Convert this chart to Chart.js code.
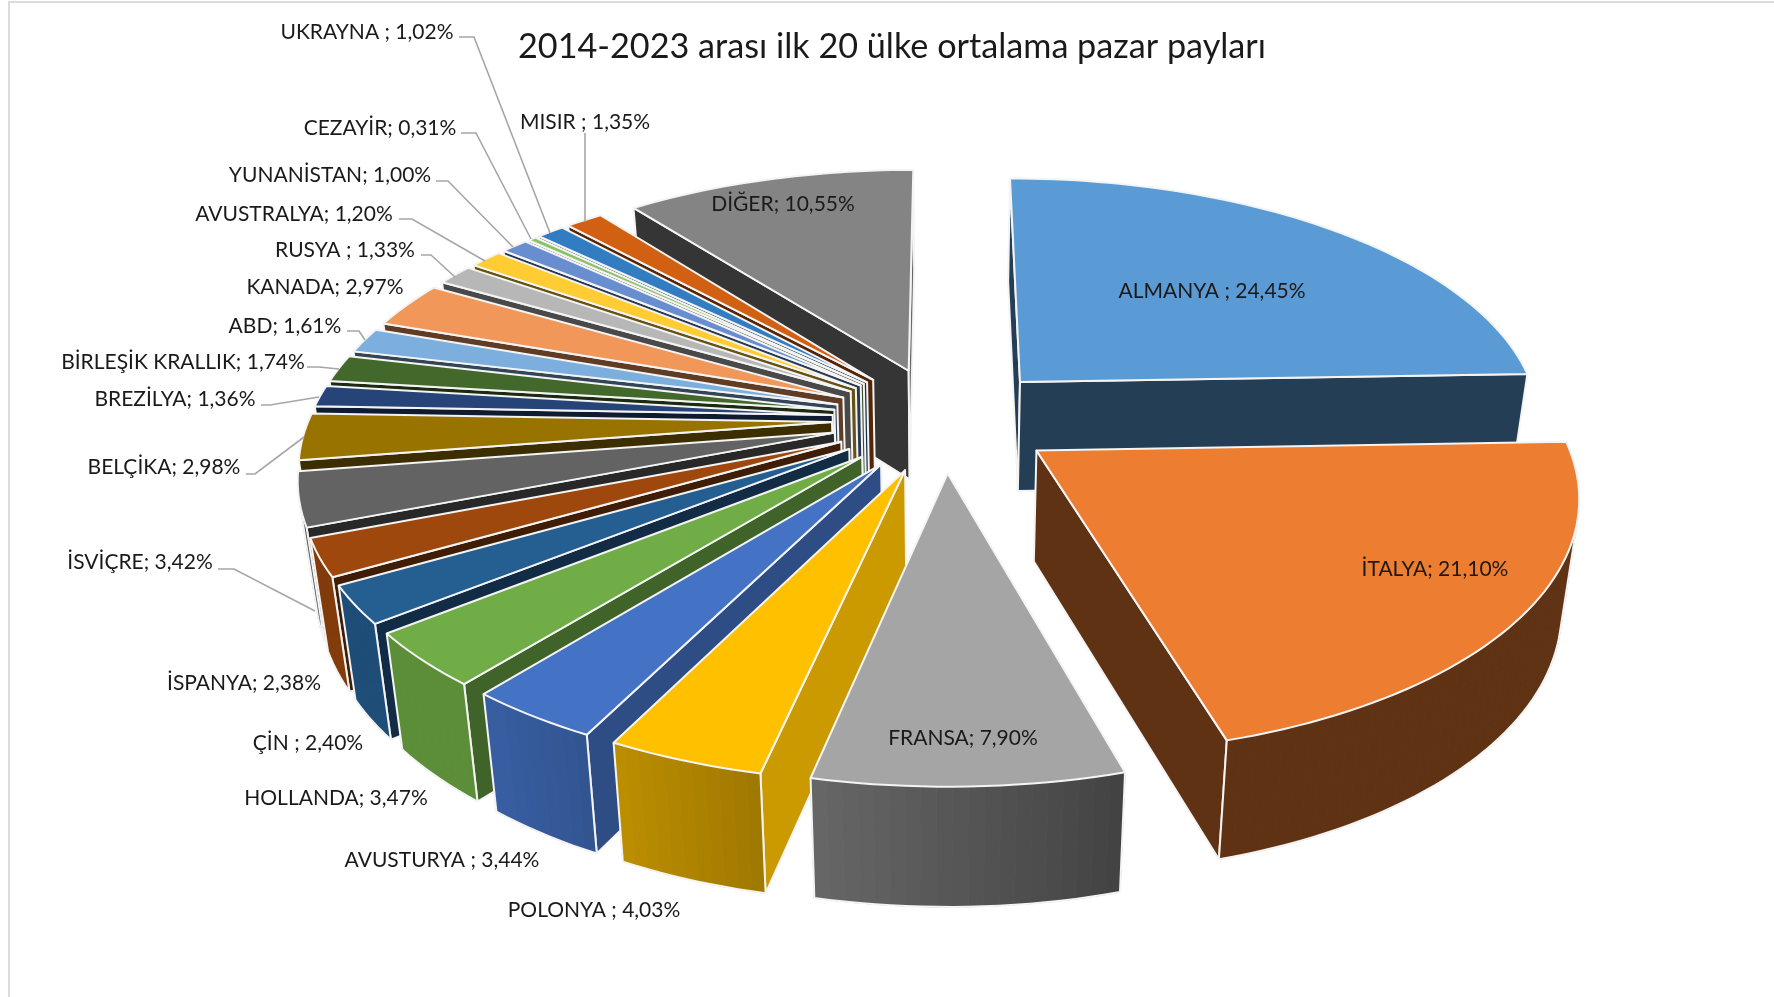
<!DOCTYPE html>
<html lang="tr">
<head>
<meta charset="utf-8">
<title>Pazar payları</title>
<script src="https://cdn.jsdelivr.net/npm/chart.js@4/dist/chart.umd.js"></script>
<style>
  html, body { margin:0; padding:0; background:#fff; }
  canvas { display:block; }
</style>
</head>
<body>
<canvas id="pie" width="1774" height="997"></canvas>
<script>
// ── Data ───────────────────────────────────────────────────────
const categories = ['ALMANYA ','İTALYA','FRANSA','POLONYA ','AVUSTURYA ','HOLLANDA','ÇİN ','İSPANYA','İSVİÇRE','BELÇİKA',
  'BREZİLYA','BİRLEŞİK KRALLIK','ABD','KANADA','RUSYA ','AVUSTRALYA','YUNANİSTAN','CEZAYİR','UKRAYNA ','MISIR ','DİĞER'];
const shares = [24.45,21.10,7.90,4.03,3.44,3.47,2.40,2.38,3.42,2.98,1.36,1.74,1.61,2.97,1.33,1.20,1.00,0.31,1.02,1.35,10.55];
const colors = ['#5B9BD5','#ED7D31','#A5A5A5','#FFC000','#4472C4','#70AD47','#255E91','#9E480E','#636363','#997300',
  '#264478','#43682B','#7CAFDD','#F1975A','#B7B7B7','#FFCD33','#698ED0','#8CC168','#327DC2','#D26012','#848484'];

// label centres, same order as categories
const labelX = [1212,1435,963,594,442,336,308,244,140,164,175,183,285,325,345,294,330,380,367,585,783];
const labelY = [291,569,738,910,860,798,743,683,562,467,399,362,326,287,250,214,175,128,32,122,204];

// leader lines [index, x,y, x,y, x,y ...]
const leaders = [
  [18, 459,37, 474,37, 550,233],
  [17, 461,133, 476,133, 531,239],
  [16, 436,181, 448,181, 513,247],
  [15, 399,219, 412,219, 485,261],
  [14, 421,255, 431,255, 455,277],
  [12, 347,331, 359,331, 365,340],
  [11, 307,367, 319,367, 339,369],
  [10, 261,405, 270,405, 319,397],
  [9,  246,474, 255,474, 304,437],
  [8,  218,569, 234,569, 315,611],
  [19, 585,133, 585,222],
];

// ── 3D look ────────────────────────────────────────────────────
const CX = 944, CY = 419;   // hub on screen
const R = 523;              // disc radius
const TILT = 0.47;          // y squash
const FOCAL = 3370;         // perspective, front gets bigger
const DEPTH = 110;          // wall height
const LEAN = 0.028;         // bottom rim narrows by this much
const EDGE = '#f4f4f4';

function project(X, Y, down) {
  const p = 1 / (1 - Y / FOCAL);
  return [CX + X * p * (1 - down * LEAN), CY + Y * TILT * p + down * DEPTH * (1 + (p - 1) * 0.4)];
}

function shade(hex, b) {
  const n = parseInt(hex.slice(1), 16);
  const c = s => Math.round(((n >> s) & 255) * b);
  return `rgb(${c(16)},${c(8)},${c(0)})`;
}

function clamp(v, a, b) { return Math.max(a, Math.min(b, v)); }
function fromTop(a) { return ((a + Math.PI / 2) * 180 / Math.PI + 720) % 360; }
function radialLight(deg) { return clamp(0.4 + (150 - deg) / 48 * 0.4, 0.4, 0.8); }
function rimLight(deg) { return clamp(0.45 + (deg - 170) / 45 * 0.35, 0.4, 0.82); }

function area(q) {
  let s = 0;
  q.forEach((pt, i) => { const n = q[(i + 1) % q.length]; s += pt[0] * n[1] - n[0] * pt[1]; });
  return s;
}

function poly(ctx, q) {
  ctx.beginPath();
  q.forEach((pt, i) => i ? ctx.lineTo(pt[0], pt[1]) : ctx.moveTo(pt[0], pt[1]));
  ctx.closePath();
}

function drawSlice(ctx, el, color) {
  const start = el.startAngle, end = el.endAngle, mid = (start + end) / 2;
  const off = el.options.offset / 4;
  const ox = Math.cos(mid) * off, oy = Math.sin(mid) * off;
  const rim = (a, d) => project(ox + R * Math.cos(a), oy + R * Math.sin(a), d);
  const apex = d => project(ox, oy, d);

  ctx.lineJoin = 'round';

  // radial walls
  const walls = [
    { q:[apex(0), rim(start,0), rim(start,1), apex(1)], deg: (fromTop(start) + 270) % 360 },
    { q:[rim(end,0), apex(0), apex(1), rim(end,1)],     deg: (fromTop(end) + 90) % 360 },
  ];
  walls.forEach(w => {
    if (area(w.q) >= 0) return;
    poly(ctx, w.q);
    ctx.fillStyle = shade(color, radialLight(w.deg));
    ctx.fill();
    ctx.strokeStyle = EDGE; ctx.lineWidth = 2; ctx.stroke();
  });

  // outer wall, in short strips
  const n = Math.max(2, Math.ceil((end - start) / 0.025));
  const visible = [];
  for (let i = 0; i < n; i++) {
    const a1 = start + (end - start) * i / n, a2 = start + (end - start) * (i + 1) / n;
    const q = [rim(a1,0), rim(a2,0), rim(a2,1), rim(a1,1)];
    if (area(q) >= 0) continue;
    const c = shade(color, rimLight(fromTop((a1 + a2) / 2)));
    poly(ctx, q);
    ctx.fillStyle = c; ctx.fill();
    ctx.strokeStyle = c; ctx.lineWidth = 1; ctx.stroke();
    visible.push(q);
  }
  if (visible.length) {
    ctx.beginPath();
    ctx.moveTo(visible[0][0][0], visible[0][0][1]);
    ctx.lineTo(visible[0][3][0], visible[0][3][1]);
    visible.forEach(q => ctx.lineTo(q[2][0], q[2][1]));
    const last = visible[visible.length - 1];
    ctx.lineTo(last[1][0], last[1][1]);
    ctx.strokeStyle = EDGE; ctx.lineWidth = 2; ctx.stroke();
  }

  // top face
  const top = [apex(0)];
  for (let i = 0; i <= n; i++) top.push(rim(start + (end - start) * i / n, 0));
  poly(ctx, top);
  ctx.fillStyle = color;
  ctx.fill();
  ctx.strokeStyle = EDGE; ctx.lineWidth = 2; ctx.stroke();
}

const pie3d = {
  id: 'pie3d',
  beforeDatasetsDraw(chart) {
    const ctx = chart.ctx;
    const arcs = chart.getDatasetMeta(0).data;
    const order = arcs.map((el, i) => i)
      .sort((a, b) => Math.sin((arcs[a].startAngle + arcs[a].endAngle) / 2) - Math.sin((arcs[b].startAngle + arcs[b].endAngle) / 2));
    ctx.save();
    order.forEach(i => drawSlice(ctx, arcs[i], colors[i]));
    ctx.restore();
    return false;   // the flat pie is replaced by the 3D one
  },
  afterDraw(chart) {
    const ctx = chart.ctx;
    ctx.save();
    // picture frame
    ctx.strokeStyle = '#dcdcdc'; ctx.lineWidth = 2;
    ctx.beginPath(); ctx.moveTo(9, 997); ctx.lineTo(9, 2); ctx.lineTo(1774, 2); ctx.stroke();

    ctx.strokeStyle = '#a6a6a6'; ctx.lineWidth = 1.6;
    leaders.forEach(l => {
      ctx.beginPath();
      for (let i = 1; i < l.length; i += 2) i === 1 ? ctx.moveTo(l[i], l[i+1]) : ctx.lineTo(l[i], l[i+1]);
      ctx.stroke();
    });

    ctx.fillStyle = '#1a1a1a';
    ctx.font = '21px Lato';
    ctx.textAlign = 'center';
    ctx.textBaseline = 'middle';
    categories.forEach((name, i) => {
      ctx.fillText(`${name}; ${shares[i].toFixed(2).replace('.', ',')}%`, labelX[i], labelY[i]);
    });
    ctx.restore();
  }
};

new Chart(document.getElementById('pie'), {
  type: 'pie',
  data: { labels: categories, datasets: [{ data: shares, backgroundColor: colors, borderWidth: 0, offset: 448 }] },
  options: {
    responsive: false,
    animation: false,
    layout: { padding: { left: 10 } },
    plugins: {
      legend: { display: false },
      tooltip: { enabled: false },
      title: {
        display: true,
        text: '2014-2023 arası ilk 20 ülke ortalama pazar payları',
        color: '#1a1a1a',
        font: { family: 'Lato', size: 34.2, weight: 'normal' },
        padding: { top: 26, bottom: 10 },
      },
    },
  },
  plugins: [pie3d],
});
</script>
</body>
</html>
